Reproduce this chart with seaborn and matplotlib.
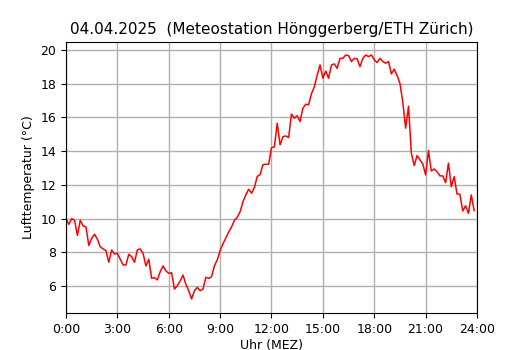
import numpy as np
import pandas as pd
import matplotlib
matplotlib.use("Agg")
import matplotlib.pyplot as plt
import seaborn as sns

title = "04.04.2025  (Meteostation Hönggerberg/ETH Zürich)"
xlabel = "Uhr (MEZ)"
ylabel = "Lufttemperatur (°C)"
xtick_pos = [0, 3, 6, 9, 12, 15, 18, 21, 24]
xtick_labels = ["0:00", "3:00", "6:00", "9:00", "12:00", "15:00", "18:00", "21:00", "24:00"]
ytick_pos = [6, 8, 10, 12, 14, 16, 18, 20]

# 10-minute temperature values from 0:00 to 23:50
temps = [
    10.0, 9.66, 10.0, 9.9, 9.0, 9.9, 9.56, 9.5, 8.4, 8.83, 9.07, 8.77,
    8.33, 8.2, 8.1, 7.41, 8.14, 7.9, 7.94, 7.6, 7.25, 7.25, 7.88, 7.74,
    7.41, 8.14, 8.2, 7.94, 7.19, 7.59, 6.46, 6.5, 6.36, 6.85, 7.19, 6.9,
    6.75, 6.79, 5.82, 6.02, 6.3, 6.65, 6.1, 5.72, 5.23, 5.72, 5.92, 5.72,
    5.82, 6.52, 6.45, 6.55, 7.2, 7.55, 8.1, 8.5, 8.85, 9.2, 9.5, 9.9,
    10.08, 10.4, 11.0, 11.4, 11.74, 11.5, 11.83, 12.5, 12.6, 13.2, 13.22, 13.22,
    14.2, 14.25, 15.65, 14.37, 14.85, 14.9, 14.8, 16.2, 15.95, 16.1, 15.75, 16.54,
    16.78, 16.74, 17.4, 17.8, 18.5, 19.11, 18.32, 18.75, 18.32, 19.11, 19.17, 18.91,
    19.5, 19.5, 19.7, 19.66, 19.31, 19.5, 19.47, 19.01, 19.5, 19.7, 19.6, 19.7,
    19.41, 19.25, 19.5, 19.31, 19.21, 19.31, 18.58, 18.86, 18.48, 18.02, 16.9, 15.36,
    16.66, 13.87, 13.14, 13.73, 13.48, 13.24, 12.59, 14.03, 12.82, 12.94, 12.78, 12.53,
    12.53, 12.13, 13.28, 11.89, 12.49, 11.46, 11.44, 10.45, 10.76, 10.31, 11.4, 10.47,
]
hours = [i / 6 for i in range(len(temps))]

df = pd.DataFrame({"hour": hours, "temp": temps})

fig = plt.figure(figsize=(5.3, 3.5), dpi=100)
ax = fig.add_axes([0.1245, 0.1057, 0.7755, 0.7743])
sns.lineplot(data=df, x="hour", y="temp", color="red", linewidth=1.1, ax=ax)
ax.set_xlim(0, 24)
ax.set_ylim(4.4, 20.47)
ax.set_xticks(xtick_pos)
ax.set_xticklabels(xtick_labels)
ax.set_yticks(ytick_pos)
ax.tick_params(labelsize=9)
ax.grid(True, color="#b0b0b0", linewidth=1.0)
ax.set_axisbelow(True)
ax.set_title(title, fontsize=11)
ax.set_xlabel(xlabel, fontsize=9, labelpad=2)
ax.set_ylabel(ylabel, fontsize=9)
fig.savefig("out.png", dpi=100)
